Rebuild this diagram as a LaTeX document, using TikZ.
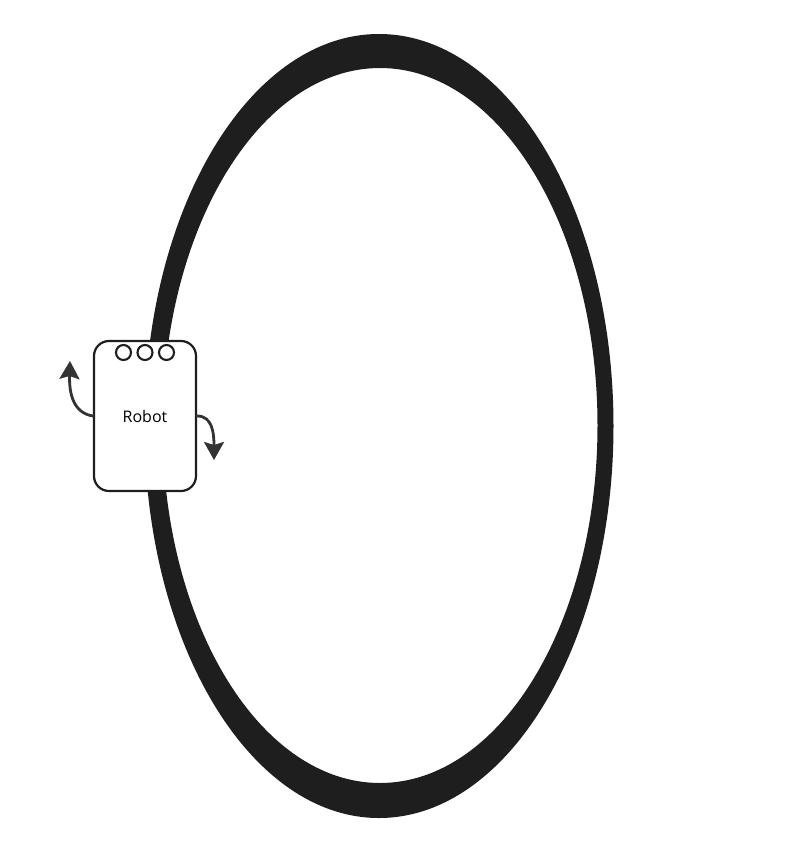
\documentclass[tikz,border=0pt]{standalone}
\usepackage{fontspec}
\setmainfont{Open Sans}
\usetikzlibrary{arrows.meta}
\definecolor{ringgray}{HTML}{1E1E1E}
\definecolor{turngray}{HTML}{333333}
\begin{document}
\begin{tikzpicture}[
  x=1pt,
  y=-1pt,
  line join=round,
  line cap=round,
  body/.style={draw=ringgray,fill=white,line width=2.2pt,rounded corners=15pt,
    minimum width=102pt,minimum height=150pt,inner sep=0pt,
    font=\fontsize{16}{19}\selectfont},
  sensor/.style={circle,draw=ringgray,fill=white,line width=2.1pt,
    minimum size=15pt,inner sep=0pt},
  turn/.style={draw=turngray,line width=2.8pt,
    -{Stealth[length=18pt,width=20pt,inset=3pt]}}
]
  \useasboundingbox (0,0) rectangle (788,841);

  % Track ring.
  \fill[ringgray,even odd rule] (379,426) ellipse [x radius=234.5,y radius=392]
    (380,425.5) ellipse [x radius=217.5,y radius=357.5];

  % Robot body with its sensors.
  \node[body] (robot) at (145,416) {Robot};
  \node[sensor] (s1) at (123.5,352.5) {};
  \node[sensor] (s2) at (145,352.5) {};
  \node[sensor] (s3) at (166.5,352.5) {};

  % Turning directions.
  \coordinate (lefttip) at (70,361);
  \coordinate (righttip) at (214,460);
  \draw[turn] (robot.west) .. controls (74,413) and (69,395) .. (lefttip);
  \draw[turn] (robot.east) .. controls (212,416) and (214,432) .. (righttip);
\end{tikzpicture}
\end{document}
